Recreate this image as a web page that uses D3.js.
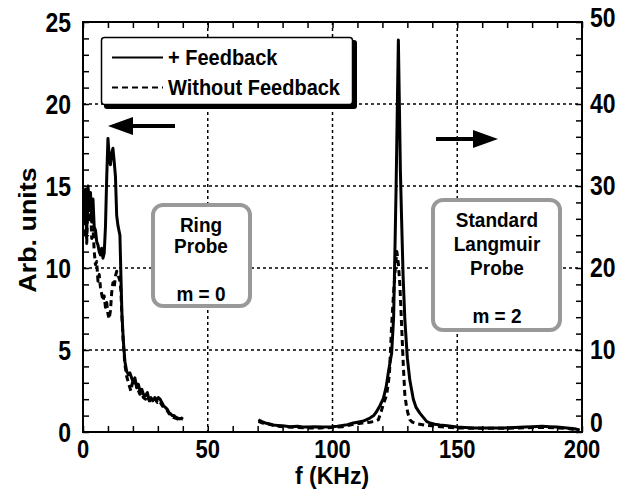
<!DOCTYPE html>
<html>
<head>
<meta charset="utf-8">
<script src="https://cdn.jsdelivr.net/npm/d3@7/dist/d3.min.js"></script>
<style>
  body { margin: 0; background: #fff; }
  svg { display: block; }
  text { font-family: "Liberation Sans", Arial, sans-serif; font-weight: bold; fill: #000; }
</style>
</head>
<body>
<svg id="chart" width="628" height="489"></svg>
<script>
// ring probe (left axis), f in kHz
var ringFb = [[0.5,13.0],[1,14.8],[1.5,12.2],[2,15.0],[2.5,13.5],[3,14.6],[3.5,12.8],[4,14.2],[4.5,12.5],[5,12.3],[5.5,11.6],[6,11.4],[6.5,11.0],[7,10.8],[7.5,11.2],[8,10.6],[8.5,10.9],[9,12.5],[9.5,15.5],[10,17.9],[10.5,16.8],[11,16.3],[11.5,17.0],[12,17.3],[12.5,16.5],[13,15.6],[13.5,13.2],[14,12.6],[14.8,12.0],[15.2,9.5],[15.6,7.2],[16.2,5.5],[16.8,4.3],[17.5,3.7],[18.2,3.5],[18.8,3.6],[19.5,3.3],[20.2,3.0],[20.8,3.3],[21.5,2.7],[22.2,2.9],[23,2.4],[23.6,2.6],[24.2,2.3],[25,2.2],[25.8,2.4],[26.4,2.0],[27.2,2.1],[28,1.9],[28.8,2.1],[29.5,1.9],[30.2,2.1],[30.9,2.0],[31.6,1.8],[32.3,1.6],[33,1.5],[33.7,1.4],[34.4,1.2],[35.1,1.1],[35.8,1.0],[36.5,1.0],[37.2,0.9],[38,0.85],[38.8,0.8],[39.5,0.85],[40,0.8]];
var ringNoFb = [[0.5,12.0],[1,14.5],[1.5,11.5],[2,14.8],[2.5,12.8],[3,14.0],[3.5,11.8],[4,12.5],[4.5,11.0],[5,10.2],[5.5,10.4],[6,9.2],[6.5,9.6],[7,8.8],[7.5,8.4],[8,8.0],[8.5,8.3],[9,7.6],[9.5,7.9],[10,7.2],[10.5,6.9],[11,7.4],[11.5,8.5],[12,9.1],[12.5,8.8],[13,9.5],[13.5,9.8],[14,9.6],[14.8,9.2],[15.2,8.6],[15.6,7.0],[16.2,5.3],[16.8,4.1],[17.5,3.4],[18.2,3.0],[18.8,2.7],[19.2,2.5],[19.8,3.0],[20.5,2.8],[21.2,3.0],[22,2.6],[22.8,2.3],[23.5,2.4],[24.2,2.1],[25,2.0],[25.8,2.2],[26.6,1.9],[27.4,1.9],[28.2,1.8],[29,2.0],[29.8,1.8],[30.6,1.9],[31.4,1.7],[32.2,1.5],[33,1.4],[33.8,1.3],[34.6,1.1],[35.4,1.0],[36.2,0.9],[37,0.85],[37.8,0.8],[38.6,0.75],[39.4,0.8],[40,0.75]];

// langmuir probe (right axis)
var langFb = [[70.3,1.5],[71.5,1.3],[73,1.1],[74.5,1.0],[76.3,0.85],[78,0.8],[80,0.75],[83,0.65],[86,0.7],[88,0.6],[90,0.6],[93,0.65],[96,0.6],[99.7,0.65],[102,0.7],[104,0.8],[106,0.9],[108.3,1.1],[110,1.2],[112,1.3],[113.7,1.5],[115,1.7],[116.5,2.0],[117.7,2.5],[119,3.2],[120.4,4.1],[121.5,5.5],[122.5,7.5],[123.7,9.6],[124.5,14],[125,21.8],[125.5,30],[126,40],[126.4,47.8],[126.8,40],[127.2,32],[127.7,25.9],[128.3,19],[129,13.7],[130,9.0],[131,6.3],[132.4,4.0],[133.5,3.0],[135,2.3],[137.7,1.3],[139,1.1],[141,0.95],[143,0.85],[146,0.75],[149.8,0.6],[153,0.55],[157,0.5],[163,0.5],[168,0.5],[173,0.55],[177,0.6],[180,0.65],[184,0.7],[187,0.65],[190,0.6],[194,0.5],[197,0.4],[199,0.25]];
var langNoFb = [[70.3,1.3],[72,1.1],[75,0.9],[78,0.7],[82,0.6],[86,0.55],[90,0.5],[95,0.5],[100,0.55],[104,0.65],[108,0.9],[112,1.1],[115,1.2],[117,1.3],[118.4,1.5],[119.5,2.5],[120.5,3.5],[121.7,4.5],[122.8,7],[123.7,13],[124.5,17],[125.2,20],[125.8,22],[126.4,20.5],[127,18],[127.7,13],[128.4,8],[129,4.5],[129.7,3.0],[130.3,2.2],[131,1.5],[132,1.2],[134,1.0],[137,0.85],[140,0.75],[145,0.6],[150,0.5],[155,0.45],[160,0.45],[170,0.45],[175,0.5],[180,0.55],[185,0.55],[190,0.5],[195,0.4],[199,0.2]];

var xTicks = [0, 50, 100, 150, 200];
var yLeftTicks = [0, 5, 10, 15, 20, 25];
var yRightTicks = [0, 10, 20, 30, 40, 50];

var svg = d3.select("#chart");
svg.append("rect").attr("width", 628).attr("height", 489).attr("fill", "#fff");

var x = d3.scaleLinear().domain([0, 200]).range([83, 582]);
var yL = d3.scaleLinear().domain([0, 25]).range([432, 22]);
var yR = d3.scaleLinear().domain([0, 50]).range([432, 22]);

function label(t, px, py, size, anchor, sy) {
    return svg.append("text")
        .attr("transform", "translate(" + px + "," + py + ") scale(1," + (sy || 1) + ")")
        .attr("font-size", size)
        .attr("text-anchor", anchor || "middle")
        .text(t);
}

// grid
var grid = svg.append("g").attr("stroke", "#000").attr("stroke-width", 1.5).attr("stroke-dasharray", "3,3");
[50, 100, 150].forEach(function (v) {
    grid.append("line").attr("x1", x(v)).attr("x2", x(v)).attr("y1", yL(25)).attr("y2", yL(0));
});
[5, 10, 15, 20].forEach(function (v) {
    grid.append("line").attr("x1", x(0)).attr("x2", x(200)).attr("y1", yL(v)).attr("y2", yL(v));
});

// ticks (inward)
function ticks(axis, vals, size) {
    var g = svg.append("g").call(axis.tickValues(vals).tickSize(size).tickFormat(""));
    g.select(".domain").remove();
    g.selectAll("line").attr("stroke-width", 1.5);
    return g;
}
ticks(d3.axisBottom(x), d3.range(0, 201, 10), -6).attr("transform", "translate(0,432)");
ticks(d3.axisTop(x), d3.range(0, 201, 10), -6).attr("transform", "translate(0,22)");
ticks(d3.axisLeft(yL), d3.range(0, 26, 1), -6).attr("transform", "translate(83,0)");
ticks(d3.axisRight(yR), d3.range(0, 51, 2), -6).attr("transform", "translate(582,0)");

// curves
var lineL = d3.line().x(function (d) { return x(d[0]); }).y(function (d) { return yL(d[1]); });
var lineR = d3.line().x(function (d) { return x(d[0]); }).y(function (d) { return yR(d[1]); });
function curve(data, gen, dashed) {
    svg.append("path").datum(data).attr("d", gen)
        .attr("fill", "none").attr("stroke", "#000").attr("stroke-width", 3)
        .attr("stroke-linejoin", "round")
        .attr("stroke-dasharray", dashed ? "6,4" : null);
}
curve(ringNoFb, lineL, true);
curve(ringFb, lineL, false);
curve(langNoFb, lineR, true);
curve(langFb, lineR, false);

// frame
svg.append("rect").attr("x", 83).attr("y", 22).attr("width", 499).attr("height", 410)
    .attr("fill", "none").attr("stroke", "#000").attr("stroke-width", 2);

// tick labels
xTicks.forEach(function (v) { label(v, x(v), 458, 22, "middle", 1.2); });
yLeftTicks.forEach(function (v) { label(v, 71, yL(v) + 10, 23, "end", 1.2); });
yRightTicks.forEach(function (v) {
    var dy = v === 0 ? 0 : (v === 50 ? 5 : 9);
    label(v, 590, yR(v) + dy, 23, "start", 1.2);
});

// axis titles
label("f (KHz)", 332, 484, 23, "middle", 1.05);
svg.append("text").attr("transform", "translate(36,230) rotate(-90) scale(1.12,1)")
    .attr("font-size", 24).attr("text-anchor", "middle").text("Arb. units");

// legend
var lg = svg.append("g");
lg.append("rect").attr("x", 104).attr("y", 40).attr("width", 253).attr("height", 69).attr("rx", 3).attr("fill", "#000");
lg.append("rect").attr("x", 101.5).attr("y", 37.5).attr("width", 251).attr("height", 67).attr("rx", 3)
    .attr("fill", "#fff").attr("stroke", "#000").attr("stroke-width", 1.5);
lg.append("line").attr("x1", 112).attr("x2", 163).attr("y1", 57.5).attr("y2", 57.5).attr("stroke", "#000").attr("stroke-width", 2);
lg.append("line").attr("x1", 112).attr("x2", 163).attr("y1", 87.5).attr("y2", 87.5).attr("stroke", "#000").attr("stroke-width", 2).attr("stroke-dasharray", "6,4");
label("+ Feedback", 168, 65, 20, "start", 1.1);
label("Without Feedback", 168, 95, 20, "start", 1.1);

// arrows
function arrow(x1, x2, yy) {
    var dir = x2 > x1 ? 1 : -1;
    svg.append("line").attr("x1", x1).attr("x2", x2 - dir * 20).attr("y1", yy).attr("y2", yy)
        .attr("stroke", "#000").attr("stroke-width", 4);
    svg.append("path").attr("d", "M" + x2 + "," + yy + "L" + (x2 - dir * 25) + "," + (yy - 9) + "L" + (x2 - dir * 25) + "," + (yy + 9) + "Z")
        .attr("fill", "#000");
}
arrow(175, 108, 126);
arrow(436, 498, 139);

// probe boxes
function box(x0, y0, w, h) {
    svg.append("rect").attr("x", x0).attr("y", y0).attr("width", w).attr("height", h).attr("rx", 10)
        .attr("fill", "#fff").attr("stroke", "#999").attr("stroke-width", 4);
}
box(153, 205, 97, 101);
label("Ring", 201, 232, 19, "middle", 1.1);
label("Probe", 201, 253, 19, "middle", 1.1);
label("m = 0", 201, 301, 19, "middle", 1.1);

box(433, 200, 127, 130);
label("Standard", 497, 227, 19, "middle", 1.1);
label("Langmuir", 497, 251, 19, "middle", 1.1);
label("Probe", 497, 275, 19, "middle", 1.1);
label("m = 2", 497, 323, 19, "middle", 1.1);
</script>
</body>
</html>
